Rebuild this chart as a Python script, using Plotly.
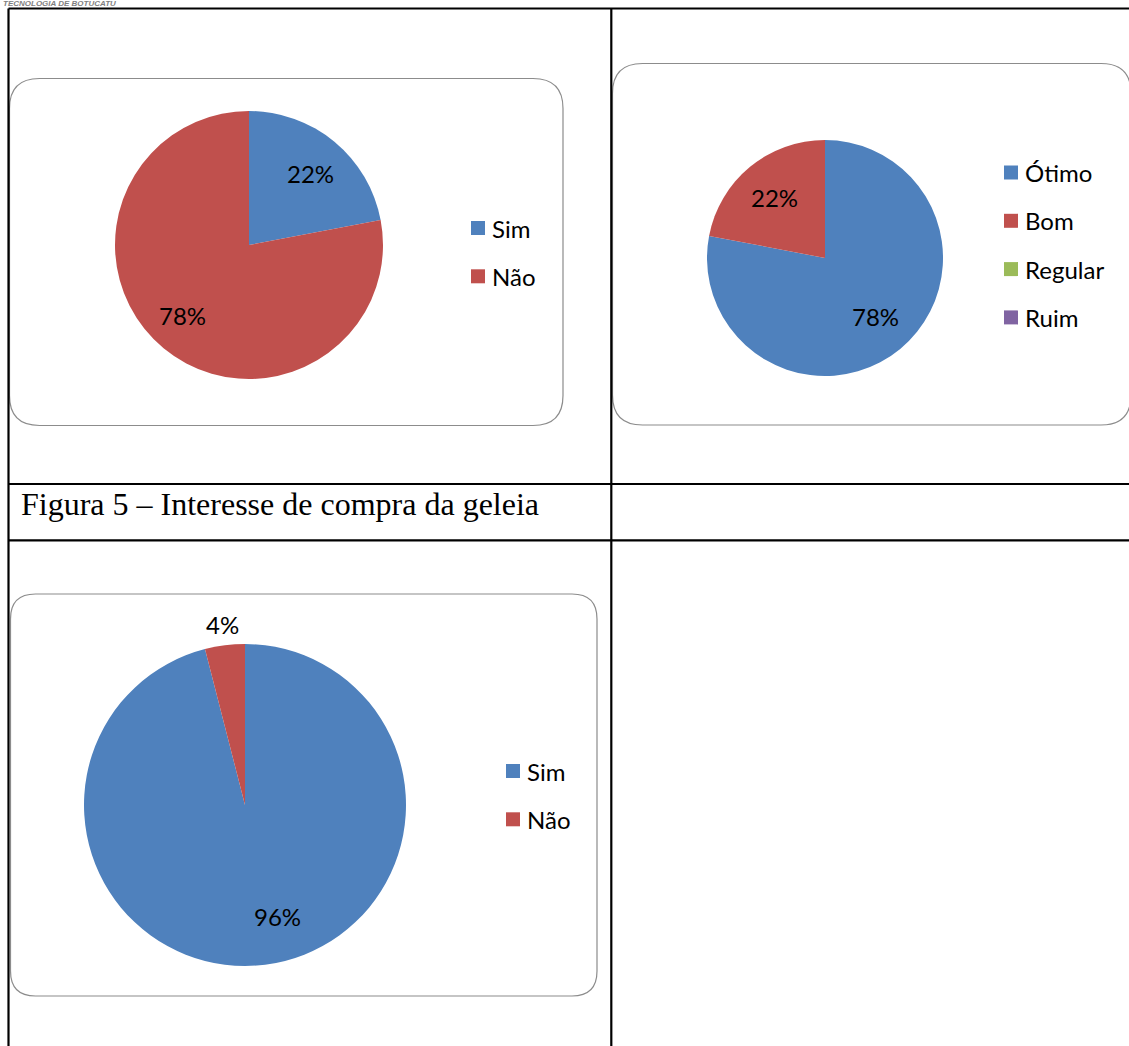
import math
import plotly.graph_objects as go

W, H = 1129, 1046

# ---- data ----
c1_labels = ["Sim", "Não"]
c1_values = [22, 78]
c2_labels = ["Ótimo", "Bom", "Regular", "Ruim"]
c2_values = [78, 22, 0, 0]
c3_labels = ["Sim", "Não"]
c3_values = [96, 4]
caption = "Figura 5 – Interesse de compra da geleia"
header = "TECNOLOGIA DE BOTUCATU"

COLORS = ["#4F81BD", "#C0504D", "#9BBB59", "#8064A2"]
FONT = "Lato"
LBL_SIZE = 24

fig = go.Figure()

# invisible pixel axes for shapes/annotations
fig.update_xaxes(range=[0, W], visible=False, fixedrange=True)
fig.update_yaxes(range=[H, 0], visible=False, fixedrange=True)
fig.add_trace(go.Scatter(x=[0], y=[0], mode="markers", marker=dict(opacity=0),
                         showlegend=False, hoverinfo="skip"))


def rounded_box(x0, y0, x1, y1, r):
    return (f"M {x0+r},{y0} L {x1-r},{y0} Q {x1},{y0} {x1},{y0+r} "
            f"L {x1},{y1-r} Q {x1},{y1} {x1-r},{y1} L {x0+r},{y1} "
            f"Q {x0},{y1} {x0},{y1-r} L {x0},{y0+r} Q {x0},{y0} {x0+r},{y0} Z")


charts = [
    dict(labels=c1_labels, values=c1_values, cx=249, cy=245, r=134,
         box=(9.5, 78.5, 563, 425.5, 30), leg_x=471, leg_y=228, lf=0.72,
         shift=[(0, 3), (-5, -4)], outside=[]),
    dict(labels=c2_labels, values=c2_values, cx=825, cy=258, r=118,
         box=(612.5, 63.5, 1131, 425, 30), leg_x=1004, leg_y=172.5, lf=0.67,
         shift=[(0, -2), (0, 0), (0, 0), (0, 0)], outside=[]),
    dict(labels=c3_labels, values=c3_values, cx=245, cy=805, r=161,
         box=(10.5, 594, 597, 996, 25), leg_x=506, leg_y=771, lf=0.72,
         shift=[(18, -4), (0, 0)], outside=[1]),
]

shapes = []
annotations = []

for ch in charts:
    x0, y0, x1, y1, rr = ch["box"]
    shapes.append(dict(type="path", path=rounded_box(x0, y0, x1, y1, rr),
                       xref="x", yref="y", line=dict(color="#8C8C8C", width=1.2),
                       fillcolor="white", layer="below"))
    cx, cy, r = ch["cx"], ch["cy"], ch["r"]
    fig.add_trace(go.Pie(
        labels=ch["labels"], values=ch["values"], sort=False,
        direction="clockwise", rotation=0,
        marker=dict(colors=COLORS[:len(ch["labels"])], line=dict(width=0)),
        textinfo="none", hoverinfo="label+percent", showlegend=False,
        domain=dict(x=[(cx - r) / W, (cx + r) / W],
                    y=[1 - (cy + r) / H, 1 - (cy - r) / H]),
    ))
    total = sum(ch["values"])
    cum = 0
    for i, v in enumerate(ch["values"]):
        if v > 0:
            mid = (cum + v / 2) / total * 2 * math.pi
            f = 1.13 if i in ch["outside"] else ch["lf"]
            tx = cx + f * r * math.sin(mid)
            ty = cy - f * r * math.cos(mid)
            dx, dy = ch["shift"][i]
            annotations.append(dict(x=tx, y=ty, xref="x", yref="y",
                                    xshift=dx, yshift=-dy,
                                    text=f"{round(v / total * 100)}%",
                                    showarrow=False,
                                    font=dict(family=FONT, size=LBL_SIZE, color="black")))
        cum += v
    # legend
    for i, lab in enumerate(ch["labels"]):
        ly = ch["leg_y"] + i * 48.3
        lx = ch["leg_x"]
        shapes.append(dict(type="rect", x0=lx, x1=lx + 14, y0=ly - 7, y1=ly + 7,
                           xref="x", yref="y", fillcolor=COLORS[i],
                           line=dict(width=0)))
        annotations.append(dict(x=lx + 19, y=ly, xref="x", yref="y", text=lab,
                                xanchor="left", yanchor="middle", showarrow=False,
                                font=dict(family=FONT, size=LBL_SIZE, color="black")))

# table lines
black = dict(color="black", width=2.2)
for (xa, ya, xb, yb) in [(8.5, 8.5, W + 5, 8.5), (8.5, 8.5, 8.5, H + 5),
                         (611.3, 8.5, 611.3, H + 5), (8.5, 484, W + 5, 484),
                         (8.5, 540.3, W + 5, 540.3)]:
    shapes.append(dict(type="line", x0=xa, y0=ya, x1=xb, y1=yb, xref="x", yref="y",
                       line=black, layer="above"))

annotations.append(dict(x=19, y=504, xref="x", yref="y", text=caption,
                        xanchor="left", yanchor="middle", showarrow=False,
                        font=dict(family="Liberation Serif", size=32, color="black")))
annotations.append(dict(x=2, y=0, xref="x", yref="y", text=f"<i><b>{header}</b></i>",
                        xanchor="left", yanchor="top", showarrow=False,
                        borderpad=0, yshift=2,
                        font=dict(family="Liberation Sans", size=8, color="#7F7F7F")))

fig.update_layout(
    width=W, height=H, margin=dict(l=0, r=0, t=0, b=0),
    paper_bgcolor="white", plot_bgcolor="white",
    shapes=shapes, annotations=annotations, showlegend=False,
)

fig.write_html("out.html", config=dict(displayModeBar=False))
